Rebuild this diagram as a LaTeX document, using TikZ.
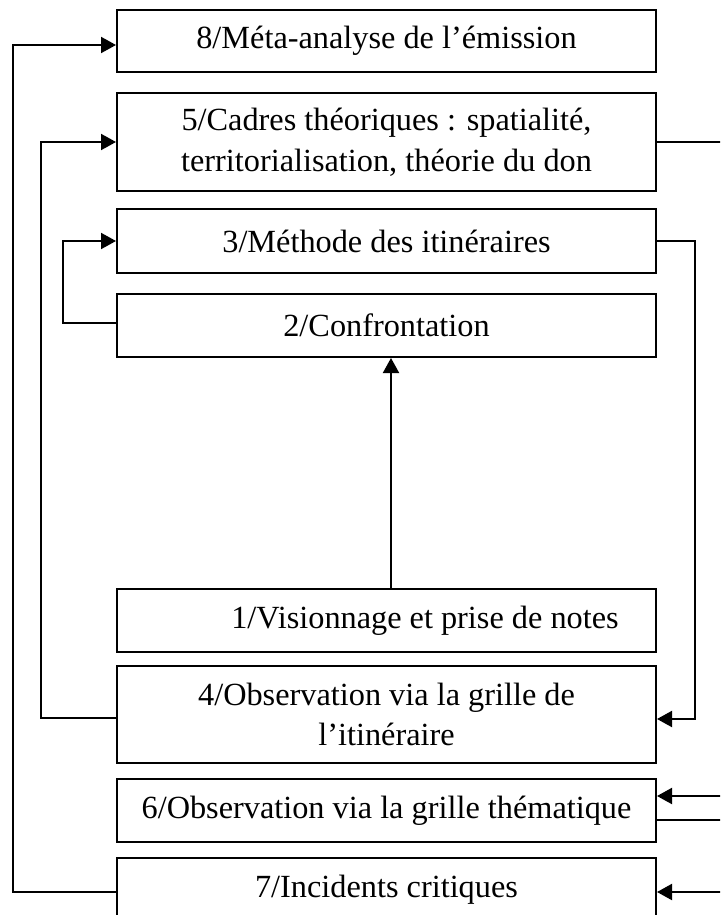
\documentclass[tikz,border=0pt]{standalone}
\usepackage{fontspec}
\setmainfont{Liberation Serif}
\usetikzlibrary{arrows.meta}
\begin{document}
\begin{tikzpicture}[x=0.5pt,y=-0.5pt,
  box/.style={draw, line width=1pt, inner sep=0pt, minimum width=269.5pt, align=center,
    font=\fontsize{16.15}{20.3}\selectfont},
  conn/.style={line width=1pt},
  arr/.style={conn, -{Triangle[length=7.5pt,width=8pt]}}]
\useasboundingbox (0,0) rectangle (720,915);
\clip (0,0) rectangle (720,915);
\node[box, minimum height=31pt] (n8) at (386.5,41) {8/Méta-analyse de l’émission};
\node[box, minimum height=49pt] (n5) at (386.5,142) {5/Cadres théoriques : spatialité,\\territorialisation, théorie du don};
\node[box, minimum height=32pt] (n3) at (386.5,241) {3/Méthode des itinéraires};
\node[box, minimum height=31.5pt] (n2) at (386.5,325.5) {2/Confrontation};
\node[box, minimum height=31.5pt] (n1) at (386.5,620.5) {\hspace*{38.5pt}1/Visionnage et prise de notes};
\node[box, minimum height=48.5pt] (n4) at (386.5,714.5) {4/Observation via la grille de\\l’itinéraire};
\node[box, minimum height=31.5pt] (n6) at (386.5,810.5) {6/Observation via la grille thématique};
\node[box, minimum height=31.5pt] (n7) at (386.5,889.5) {7/Incidents critiques};
% edge coordinates
\coordinate (e5) at (730,142);
\coordinate (e6in) at (730,796);
\coordinate (e6out) at (730,820);
\coordinate (e7in) at (730,892);
% connectors
\draw[arr] (n1.north -| 391,0) -- (n2.south -| 391,0);
\draw[arr] (n2.west |- 0,323) -- (63,323) |- (n3.west);
\draw[arr] (n4.west |- 0,718) -- (41,718) |- (n5.west);
\draw[arr] (n7.west |- 0,892) -- (13,892) |- (n8.west |- 0,45);
\draw[conn] (n5.east) -- (e5);
\draw[arr] (n3.east) -- (695,241) |- (n4.east |- 0,719);
\draw[arr] (e6in) -- (n6.east |- e6in);
\draw[conn] (n6.east |- e6out) -- (e6out);
\draw[arr] (e7in) -- (n7.east |- e7in);
\end{tikzpicture}
\end{document}
